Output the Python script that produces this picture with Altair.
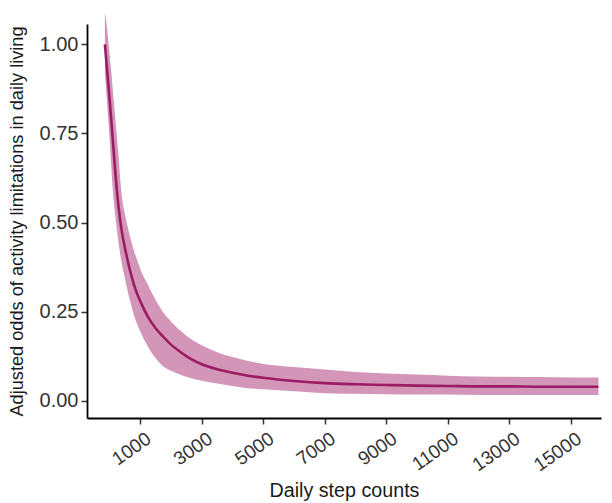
import altair as alt
import pandas as pd

steps = [-150, -100, -50, 0, 50, 100, 150, 200, 250, 300, 350, 400, 500, 600,
         700, 800, 900, 1000, 1250, 1500, 1750, 2000, 2250, 2500, 2750, 3000,
         3500, 4000, 4500, 5000, 6000, 7000, 8000, 9000, 10000, 11000, 12000,
         13000, 14000, 15000, 15900]
odds = [1.00, 0.95, 0.90, 0.85, 0.795, 0.74, 0.685, 0.63, 0.58, 0.54, 0.505,
        0.475, 0.43, 0.39, 0.355, 0.325, 0.30, 0.28, 0.236, 0.204, 0.18, 0.158,
        0.141, 0.126, 0.113, 0.103, 0.089, 0.079, 0.071, 0.065, 0.056, 0.050,
        0.047, 0.045, 0.043, 0.042, 0.041, 0.041, 0.040, 0.040, 0.040]
upper = [1.09, 1.06, 1.02, 0.975, 0.93, 0.88, 0.83, 0.78, 0.73, 0.68, 0.62,
         0.575, 0.525, 0.485, 0.45, 0.42, 0.395, 0.37, 0.325, 0.283, 0.248,
         0.223, 0.201, 0.183, 0.168, 0.156, 0.137, 0.123, 0.112, 0.104, 0.095,
         0.088, 0.081, 0.077, 0.074, 0.071, 0.069, 0.068, 0.067, 0.066, 0.066]
lower = [0.92, 0.86, 0.80, 0.74, 0.67, 0.60, 0.55, 0.51, 0.475, 0.44, 0.41,
         0.385, 0.345, 0.305, 0.27, 0.24, 0.215, 0.195, 0.152, 0.12, 0.097,
         0.085, 0.076, 0.068, 0.062, 0.057, 0.049, 0.042, 0.036, 0.033, 0.027,
         0.022, 0.020, 0.019, 0.018, 0.018, 0.017, 0.017, 0.017, 0.017, 0.017]
x_ticks = [1000, 3000, 5000, 7000, 9000, 11000, 13000, 15000]
y_ticks = [0.0, 0.25, 0.5, 0.75, 1.0]

df = pd.DataFrame({"steps": steps, "odds": odds, "upper": upper, "lower": lower})

FONT = "Liberation Sans"

x_enc = alt.X(
    "steps:Q",
    scale=alt.Scale(domain=[-732, 15984], nice=False, zero=False),
    axis=alt.Axis(
        title="Daily step counts",
        values=x_ticks,
        format="d",
        labelAngle=325,
        labelAlign="right",
        labelBaseline="top",
        labelOffset=3,
        labelPadding=5,
        labelFontSize=19,
        titlePadding=6,
        titleFontSize=19.7,
    ),
)
y_scale = alt.Scale(domain=[-0.0477, 1.057], nice=False, zero=False)
y_axis = alt.Axis(
    title="Adjusted odds of activity limitations in daily living",
    values=y_ticks,
    format=".2f",
    labelPadding=3,
    labelFontSize=20,
    titlePadding=13,
    titleFontSize=18.2,
)

band = alt.Chart(df).mark_area(color="#d396b9", opacity=1, interpolate="monotone").encode(
    x=x_enc,
    y=alt.Y("upper:Q", scale=y_scale, axis=y_axis),
    y2="lower:Q",
)
line = alt.Chart(df).mark_line(color="#9c1c63", strokeWidth=2.6, interpolate="monotone").encode(
    x=x_enc,
    y=alt.Y("odds:Q", scale=y_scale, axis=y_axis),
)

chart = (
    alt.layer(band, line)
    .properties(width=514, height=394, padding={"left": 7, "top": 12, "right": 5, "bottom": 5})
    .configure_view(stroke=None)
    .configure_axis(
        grid=False,
        domainColor="black",
        domainWidth=1.8,
        tickColor="#333333",
        tickWidth=1.5,
        tickSize=6,
        labelFont=FONT,
        labelColor="#333333",
        titleFont=FONT,
        titleFontWeight="normal",
        titleColor="#1a1a1a",
    )
)

chart.save("out.html", embed_options={"renderer": "svg", "actions": False})
